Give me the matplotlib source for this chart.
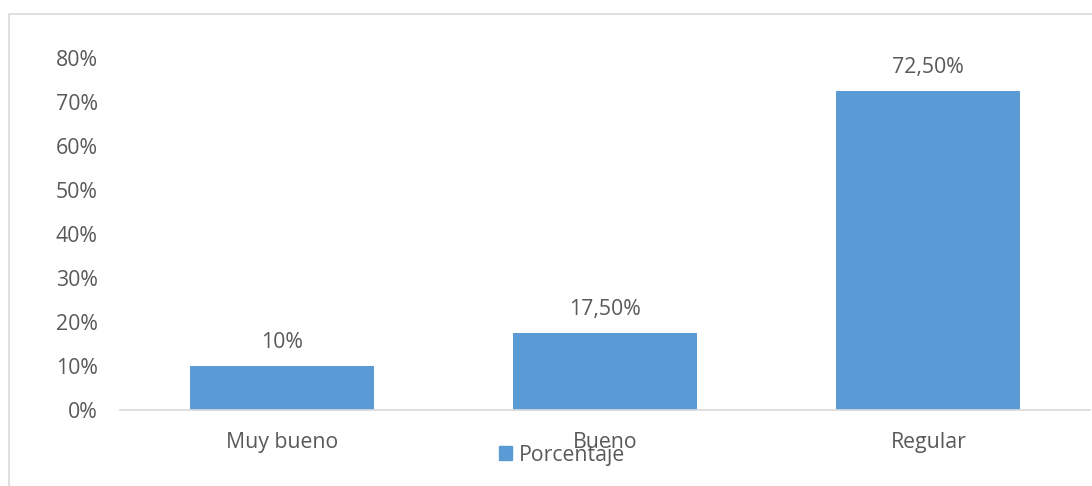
import matplotlib.pyplot as plt
from matplotlib.patches import Rectangle, Patch

categorias = ['Muy bueno', 'Bueno', 'Regular']
porcentaje = [10, 17.5, 72.5]
etiquetas = ['10%', '17,50%', '72,50%']
ticks_y = [0, 10, 20, 30, 40, 50, 60, 70, 80]

plt.rcParams['font.family'] = ['Open Sans', 'DejaVu Sans']
gris = '#595959'
azul = '#5B9BD5'
fs = 15.3

fig = plt.figure(figsize=(10.92, 4.86), dpi=100)
W, H = 1092, 486

# marco del gráfico (recortado a la derecha y abajo)
fig.patches.append(Rectangle((9 / W, -0.1), 1.2, (486 - 14) / H + 0.1,
                             transform=fig.transFigure, fill=False,
                             edgecolor='#D9D9D9', linewidth=1.2))

ax = fig.add_axes([120 / W, (486 - 410) / H, 970 / W, 352 / H])
x = range(len(categorias))
bars = ax.bar(x, porcentaje, width=0.57, color=azul)

for b, t in zip(bars, etiquetas):
    ax.annotate(t, (b.get_x() + b.get_width() / 2, b.get_height()),
                xytext=(0, 9), textcoords='offset points',
                ha='center', va='bottom', fontsize=fs, color=gris)

ax.set_xlim(-0.5, 2.5)
ax.set_ylim(0, 80)
ax.set_yticks(ticks_y)
ax.set_yticklabels([f'{v}%' for v in ticks_y])
ax.set_xticks(list(x))
ax.set_xticklabels(categorias)
ax.tick_params(axis='both', length=0, labelsize=fs, colors=gris)
ax.tick_params(axis='y', pad=16)
ax.tick_params(axis='x', pad=16)

for s in ['top', 'right', 'left']:
    ax.spines[s].set_visible(False)
ax.spines['bottom'].set_color('#D9D9D9')
ax.spines['bottom'].set_linewidth(1.2)

ax.legend(handles=[Patch(color=azul, label='Porcentaje')],
          loc='center', bbox_to_anchor=(562 / W, (486 - 455) / H),
          bbox_transform=fig.transFigure, frameon=False,
          fontsize=fs, handlelength=0.6, handleheight=0.6,
          handletextpad=0.3, labelcolor=gris)

fig.savefig('out.png', dpi=100)
